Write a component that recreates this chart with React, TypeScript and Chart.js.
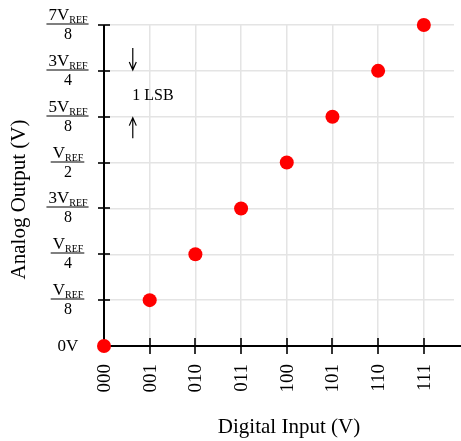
import React, { useEffect, useRef } from 'react';
import { Chart, registerables } from 'chart.js';

Chart.register(...registerables);

// Digital input codes (x categories, placed at 0..7)
const codes = ['000', '001', '010', '011', '100', '101', '110', '111'];
// Analog output level for each code, in units of VREF/8
const outputLevels = [0, 1, 2, 3, 4, 5, 6, 7];
// Y tick labels: numerator prefix before "V" (REF subscript) and denominator
const yNumPrefix = ['', '', '', '3', '', '5', '3', '7'];
const yDenominator = ['', '8', '4', '8', '2', '8', '4', '8'];
const zeroLabel = '0V';
const xTitle = 'Digital Input (V)';
const yTitle = 'Analog Output (V)';
const lsbLabel = '1 LSB';

const SERIF = '"Liberation Serif", "Times New Roman", serif';

const overlayPlugin = {
  id: 'dacOverlay',
  beforeDatasetsDraw(chart: any) {
    const { ctx } = chart;
    const xs = chart.scales.x;
    const ys = chart.scales.y;
    const x0 = xs.getPixelForValue(0);
    const y0 = ys.getPixelForValue(0);
    const yTop = ys.getPixelForValue(7);
    ctx.save();
    ctx.strokeStyle = '#000';
    ctx.lineWidth = 2;
    // axes
    ctx.beginPath();
    ctx.moveTo(x0, yTop);
    ctx.lineTo(x0, y0);
    ctx.lineTo(chart.width, y0);
    ctx.stroke();
    ctx.lineWidth = 1.6;
    // y ticks
    for (let i = 1; i < outputLevels.length; i++) {
      const py = Math.round(ys.getPixelForValue(i));
      ctx.beginPath();
      ctx.moveTo(x0 - 6, py);
      ctx.lineTo(x0 + 6, py);
      ctx.stroke();
    }
    // x ticks
    for (let i = 1; i < codes.length; i++) {
      const px = Math.round(xs.getPixelForValue(i));
      ctx.beginPath();
      ctx.moveTo(px, y0 - 8);
      ctx.lineTo(px, y0 + 8);
      ctx.stroke();
    }

    ctx.fillStyle = '#000';
    // x tick labels (rotated)
    ctx.font = `19px ${SERIF}`;
    for (let i = 0; i < codes.length; i++) {
      const px = xs.getPixelForValue(i);
      ctx.save();
      ctx.translate(px + 1, y0 + 18);
      ctx.rotate(-Math.PI / 2);
      ctx.textAlign = 'right';
      ctx.textBaseline = 'middle';
      ctx.fillText(codes[i], 0, 0);
      ctx.restore();
    }

    // y tick labels (fractions)
    const cx = 68;
    ctx.font = `17px ${SERIF}`;
    ctx.textAlign = 'center';
    ctx.textBaseline = 'middle';
    ctx.fillText(zeroLabel, cx, y0 + 1);
    for (let i = 1; i < outputLevels.length; i++) {
      const by = Math.round(ys.getPixelForValue(i)) - 1.5;
      const main = yNumPrefix[i] + 'V';
      ctx.font = `17px ${SERIF}`;
      const wMain = ctx.measureText(main).width;
      ctx.font = `10px ${SERIF}`;
      const wSub = ctx.measureText('REF').width;
      const total = wMain + wSub;
      const left = cx - total / 2;
      ctx.textAlign = 'left';
      ctx.textBaseline = 'alphabetic';
      ctx.font = `17px ${SERIF}`;
      ctx.fillText(main, left, by - 4);
      ctx.font = `10px ${SERIF}`;
      ctx.fillText('REF', left + wMain, by - 1);
      ctx.lineWidth = 1.2;
      ctx.beginPath();
      ctx.moveTo(left - 2, by + 0.5);
      ctx.lineTo(left + total + 1, by + 0.5);
      ctx.stroke();
      ctx.font = `16px ${SERIF}`;
      ctx.textAlign = 'center';
      ctx.fillText(yDenominator[i], cx, by + 15);
    }

    // axis titles
    ctx.font = `21px ${SERIF}`;
    ctx.textAlign = 'center';
    ctx.textBaseline = 'alphabetic';
    ctx.fillText(xTitle, 289, 433);
    ctx.save();
    ctx.translate(25, (yTop + y0) / 2 + 14);
    ctx.rotate(-Math.PI / 2);
    ctx.fillText(yTitle, 0, 0);
    ctx.restore();

    // 1 LSB annotation
    const ax = xs.getPixelForValue(0.63);
    const arrow = (fromV: number, toV: number) => {
      const ya = ys.getPixelForValue(fromV);
      const yb = ys.getPixelForValue(toV);
      const dir = yb > ya ? 1 : -1;
      ctx.lineWidth = 1.2;
      ctx.beginPath();
      ctx.moveTo(ax, ya);
      ctx.lineTo(ax, yb);
      ctx.moveTo(ax - 3.5, yb - dir * 8);
      ctx.lineTo(ax, yb);
      ctx.lineTo(ax + 3.5, yb - dir * 8);
      ctx.stroke();
    };
    arrow(6.5, 6.02);
    arrow(4.53, 4.98);
    ctx.font = `16px ${SERIF}`;
    ctx.textAlign = 'center';
    ctx.textBaseline = 'alphabetic';
    ctx.fillText(lsbLabel, xs.getPixelForValue(1.07), ys.getPixelForValue(5.5) + 6);
    ctx.restore();
  },
};

export default function App() {
  const canvasRef = useRef<HTMLCanvasElement | null>(null);

  useEffect(() => {
    const canvas = canvasRef.current;
    if (!canvas) return;
    const chart = new Chart(canvas, {
      type: 'scatter',
      data: {
        datasets: [
          {
            data: outputLevels.map((v, i) => ({ x: i, y: v })),
            backgroundColor: '#ff0000',
            borderColor: '#ff0000',
            pointRadius: 7,
            pointHoverRadius: 7,
            borderWidth: 0,
            clip: false as any,
          },
        ],
      },
      options: {
        animation: false,
        responsive: false,
        devicePixelRatio: 1,
        events: [],
        layout: { padding: { top: 25, right: 0, left: 0, bottom: 0 } },
        plugins: { legend: { display: false }, tooltip: { enabled: false } },
        scales: {
          x: {
            type: 'linear',
            min: 0,
            max: 7.66,
            afterBuildTicks: (s: any) => {
              s.ticks = codes.map((_, i) => ({ value: i }));
            },
            afterFit: (s: any) => {
              s.height = 95;
            },
            ticks: { display: false },
            border: { display: false },
            grid: { color: '#e4e4e4', lineWidth: 1.5, drawTicks: false },
          },
          y: {
            type: 'linear',
            min: 0,
            max: 7,
            afterBuildTicks: (s: any) => {
              s.ticks = outputLevels.map((v) => ({ value: v }));
            },
            afterFit: (s: any) => {
              s.width = 104;
            },
            ticks: { display: false },
            border: { display: false },
            grid: { color: '#e4e4e4', lineWidth: 1.5, drawTicks: false },
          },
        },
      },
      plugins: [overlayPlugin],
    });
    return () => chart.destroy();
  }, []);

  return (
    <div style={{ position: 'absolute', left: 0, top: 0, width: 461, height: 441, background: '#fff' }}>
      <canvas ref={canvasRef} width={461} height={441} style={{ display: 'block' }} />
    </div>
  );
}
